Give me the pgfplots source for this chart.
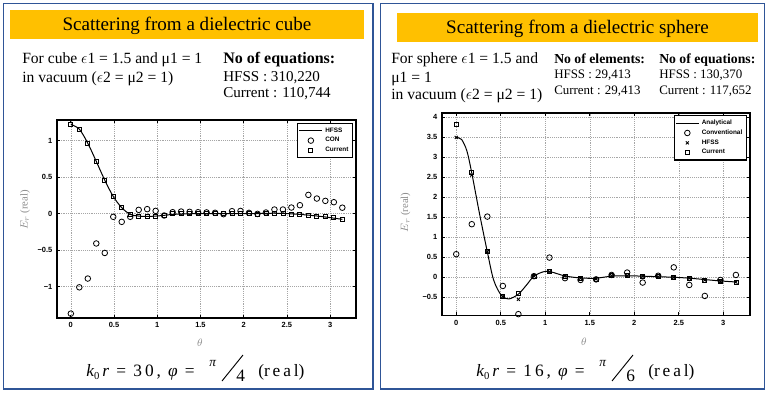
\documentclass[border=0pt]{standalone}
\usepackage{fontspec}
\setmainfont{Liberation Serif}
\newfontfamily\plotfont{Liberation Sans}
\usepackage{pgfplots}
\pgfplotsset{compat=1.18}
\definecolor{panelblue}{RGB}{47,85,151}
\definecolor{gold}{RGB}{255,192,0}
\definecolor{labgray}{RGB}{140,140,140}
\pgfplotsset{
  mystyle/.style={
    scale only axis,
    anchor=south west,
    xmin=-0.16, xmax=3.3,
    xtick={0,0.5,1,1.5,2,2.5,3},
    xticklabels={0,0.5,1,1.5,2,2.5,3},
    tick label style={font=\plotfont\bfseries\fontsize{5.6}{6.5}\selectfont},
    grid=major,
    grid style={densely dotted, black!35, line width=0.4pt},
    axis line style={line width=1.1pt},
    major tick length=2.5pt,
    tick style={line width=0.5pt, black},
    label style={labgray, font=\fontsize{8}{9}\selectfont},
    xlabel={$\theta$},
    ylabel={$E_r$ (real)},
    legend style={font=\plotfont\bfseries\fontsize{4.8}{5}\selectfont, draw=black, line width=0.9pt,
      anchor=north east, inner sep=1pt, row sep=-1.5pt, legend cell align=left},
    legend image post style={line width=0.6pt},
  },
  circ/.style={only marks, mark=o, mark size=2.1pt, mark options={line width=0.6pt, black}},
  sq/.style={only marks, mark=square, mark size=1.5pt, mark options={line width=0.6pt, black}},
  xm/.style={only marks, mark=x, mark size=1.6pt, mark options={line width=0.7pt, black}},
  ln/.style={black, line width=0.75pt, smooth, no marks},
}
\begin{document}
\begin{tikzpicture}
\begin{scope}[x=0.75pt,y=-0.75pt]
\path[use as bounding box] (0,0) rectangle (769,396);
\fill[white] (0,0) rectangle (769,396);
\draw[panelblue, line width=1.4pt] (3.5,3.5) rectangle (373,389);
\draw[panelblue, line width=1.4pt] (380.5,3.5) rectangle (764.5,389);
\fill[gold] (10,10) rectangle (364,39);
\fill[gold] (397,13) rectangle (758,42);
\node[anchor=base, font=\fontsize{14.3}{16}\selectfont, inner sep=0] at (187,31) {Scattering from a dielectric cube};
\node[anchor=base, font=\fontsize{14.3}{16}\selectfont, inner sep=0] at (577.5,33) {Scattering from a dielectric sphere};
% left texts
\begin{scope}[every node/.style={anchor=base west, inner sep=0}]
\node[font=\fontsize{11.7}{13}\selectfont] at (22,64) {For cube $\epsilon$1 = 1.5 and μ1 = 1};
\node[font=\fontsize{11.7}{13}\selectfont] at (22,82) {in vacuum ($\epsilon$2 = μ2 = 1)};
\node[font=\fontsize{12}{13}\selectfont\bfseries] at (223,63) {No of equations:};
\node[font=\fontsize{11.3}{13}\selectfont] at (223,81) {HFSS : 310,220};
\node[font=\fontsize{11.3}{13}\selectfont] at (223,98) {Current : 110,744};
% right texts
\node[font=\fontsize{11.7}{13}\selectfont] at (391,64) {For sphere $\epsilon$1 = 1.5 and};
\node[font=\fontsize{11.7}{13}\selectfont] at (391,82) {μ1 = 1};
\node[font=\fontsize{11.7}{13}\selectfont] at (391,99) {in vacuum ($\epsilon$2 = μ2 = 1)};
\node[font=\fontsize{10.3}{12}\selectfont\bfseries] at (554,63) {No of elements:};
\node[font=\fontsize{9.7}{11}\selectfont] at (554,78) {HFSS : 29,413};
\node[font=\fontsize{9.7}{11}\selectfont] at (554,94) {Current : 29,413};
\node[font=\fontsize{10.3}{12}\selectfont\bfseries] at (659,63) {No of equations:};
\node[font=\fontsize{9.7}{11}\selectfont] at (659,78) {HFSS : 130,370};
\node[font=\fontsize{9.7}{11}\selectfont] at (659,94) {Current : 117,652};
% formulas
\node[font=\fontsize{13}{15}\selectfont] at (86,376) {\textit{k}\raisebox{-2.5pt}{\fontsize{8}{8}\selectfont 0}\,\textit{r}\, = \,3\,0\,,\, \textit{φ}\, =};
\node[font=\fontsize{10}{11}\selectfont] at (209,366) {\textit{π}};
\node[font=\fontsize{13}{15}\selectfont] at (236,381) {4};
\node[font=\fontsize{13}{15}\selectfont] at (258,376) {(r\,e\,a\,l)};
\node[font=\fontsize{13}{15}\selectfont] at (476,376) {\textit{k}\raisebox{-2.5pt}{\fontsize{8}{8}\selectfont 0}\,\textit{r}\, = \,1\,6\,,\, \textit{φ}\, =};
\node[font=\fontsize{10}{11}\selectfont] at (599,366) {\textit{π}};
\node[font=\fontsize{13}{15}\selectfont] at (626,381) {6};
\node[font=\fontsize{13}{15}\selectfont] at (648,376) {(r\,e\,a\,l)};
\end{scope}
\draw[line width=0.7pt] (222,381) -- (243,355);
\draw[line width=0.7pt] (612,381) -- (633,355);
\end{scope}

% ---------------- left plot
\begin{axis}[mystyle,
  at={(42.75pt,-238.5pt)}, width=224.25pt, height=148.5pt,
  ymin=-1.43, ymax=1.28,
  ytick={-1,-0.5,0,0.5,1}, yticklabels={−1,−0.5,0,0.5,1},
  xlabel style={at={(axis description cs:0.478,-0.126)}, anchor=center},
  ylabel style={at={(axis description cs:-0.107,0.545)}, anchor=center, rotate=0},
  legend style={at={(0.99,0.985)}},
]
\addplot[ln] coordinates {(0,1.22)(0.098,1.155)(0.196,0.963)(0.295,0.712)(0.393,0.456)(0.491,0.233)(0.589,0.08)(0.687,-0.012)(0.785,-0.035)(0.884,-0.04)(0.982,-0.035)(1.08,-0.025)(1.178,-0.012)(1.37,-0.004)(1.57,0)(1.77,0)(1.96,0)(2.16,0)(2.36,0.004)(2.55,-0.004)(2.75,-0.022)(2.95,-0.048)(3.142,-0.08)};
\addlegendentry{HFSS}
\addplot[circ] coordinates {(0,-1.37)(0.0982,-1.01)(0.1963,-0.89)(0.2945,-0.41)(0.3927,-0.54)(0.4909,-0.045)(0.589,-0.114)(0.6872,-0.045)(0.7854,0.05)(0.8836,0.06)(0.9817,0.036)(1.0799,-0.027)(1.1781,0.018)(1.2763,0.027)(1.3744,0.023)(1.4726,0.018)(1.5708,0.015)(1.669,0.01)(1.7671,-0.009)(1.8653,0.032)(1.9635,0.035)(2.0617,0.009)(2.1598,-0.005)(2.258,0.014)(2.3562,0.055)(2.4544,0.055)(2.5525,0.082)(2.6507,0.114)(2.7489,0.255)(2.8471,0.205)(2.9452,0.173)(3.0434,0.155)(3.1416,0.08)};
\addlegendentry{CON}
\addplot[sq] coordinates {(0,1.223)(0.0982,1.155)(0.1963,0.963)(0.2945,0.712)(0.3927,0.456)(0.4909,0.233)(0.589,0.082)(0.6872,-0.018)(0.7854,-0.045)(0.8836,-0.045)(0.9817,-0.036)(1.0799,-0.027)(1.1781,-0.005)(1.2763,-0.005)(1.3744,-0.005)(1.4726,0)(1.5708,0)(1.669,0)(1.7671,0)(1.8653,0)(1.9635,0)(2.0617,0)(2.1598,-0.009)(2.258,0.005)(2.3562,0.005)(2.4544,0)(2.5525,-0.009)(2.6507,-0.014)(2.7489,-0.023)(2.8471,-0.037)(2.9452,-0.046)(3.0434,-0.059)(3.1416,-0.082)};
\addlegendentry{Current}
\end{axis}

% ---------------- right plot
\begin{axis}[mystyle,
  at={(331.5pt,-236.8pt)}, width=231pt, height=152pt,
  ymin=-0.97, ymax=4.1,
  ytick={-0.5,0,0.5,1,1.5,2,2.5,3,3.5,4}, yticklabels={−0.5,0,0.5,1,1.5,2,2.5,3,3.5,4},
  xlabel style={at={(axis description cs:0.461,-0.13)}, anchor=center},
  ylabel style={at={(axis description cs:-0.118,0.51)}, anchor=center},
  legend style={at={(0.99,0.99)}},
]
\addplot[ln] coordinates {(0,3.49)(0.06,3.44)(0.12,3.15)(0.1745,2.6)(0.26,1.6)(0.349,0.63)(0.42,-0.075)(0.506,-0.46)(0.59,-0.55)(0.6981,-0.43)(0.79,-0.2)(0.8727,0.02)(0.98,0.13)(1.06,0.13)(1.2217,0.025)(1.3963,-0.025)(1.5708,-0.03)(1.7453,0.02)(1.9199,0.03)(2.0944,0.02)(2.2689,0.006)(2.4435,-0.008)(2.618,-0.03)(2.7925,-0.065)(2.9671,-0.1)(3.1416,-0.125)};
\addlegendentry{Analytical}
\addplot[circ] coordinates {(0,0.57)(0.1745,1.32)(0.3491,1.51)(0.5236,-0.225)(0.6981,-0.93)(0.8727,0.02)(1.0472,0.485)(1.2217,-0.03)(1.3963,-0.075)(1.5708,-0.06)(1.7453,0.05)(1.9199,0.11)(2.0944,-0.14)(2.2689,0.03)(2.4435,0.24)(2.618,-0.2)(2.7925,-0.475)(2.9671,-0.075)(3.1416,0.05)};
\addlegendentry{Conventional}
\addplot[xm] coordinates {(0,3.49)(0.1745,2.55)(0.3491,0.63)(0.5236,-0.49)(0.6981,-0.56)(0.8727,0.025)(1.0472,0.13)(1.2217,0.025)(1.3963,-0.03)(1.5708,-0.05)(1.7453,0.03)(1.9199,0.03)(2.0944,0.02)(2.2689,0.005)(2.4435,-0.01)(2.618,-0.03)(2.7925,-0.075)(2.9671,-0.11)(3.1416,-0.13)};
\addlegendentry{HFSS}
\addplot[sq] coordinates {(0,3.82)(0.1745,2.62)(0.3491,0.63)(0.5236,-0.49)(0.6981,-0.41)(0.8727,0.025)(1.0472,0.13)(1.2217,0.025)(1.3963,-0.03)(1.5708,-0.06)(1.7453,0.03)(1.9199,0.03)(2.0944,0.025)(2.2689,0.008)(2.4435,-0.008)(2.618,-0.03)(2.7925,-0.075)(2.9671,-0.12)(3.1416,-0.13)};
\addlegendentry{Current}
\end{axis}
\end{tikzpicture}
\end{document}
